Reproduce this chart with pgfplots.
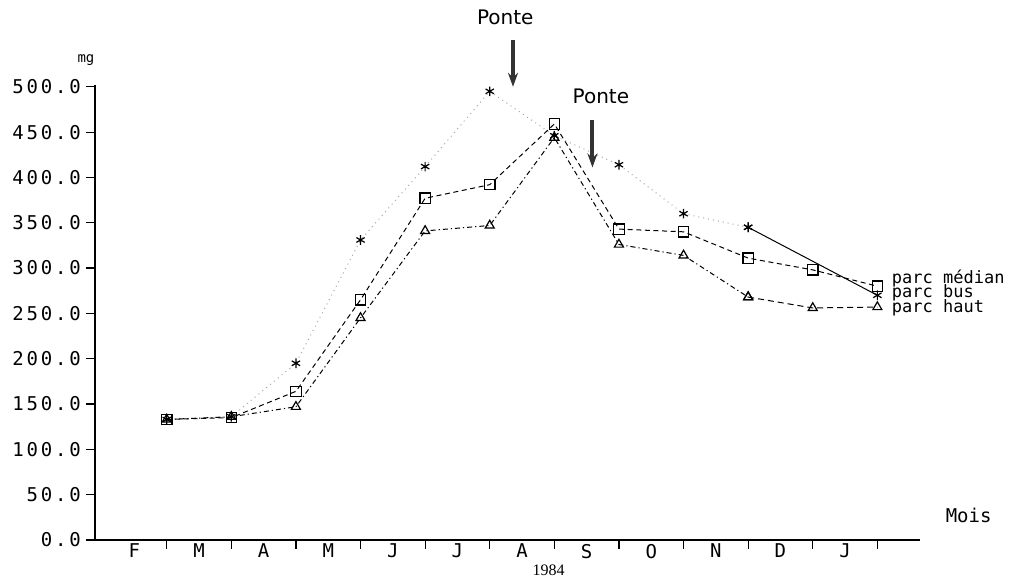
\documentclass[border=0pt]{standalone}
\usepackage{pgfplots}
\pgfplotsset{compat=1.18}
\usepackage{fontspec}
\setmainfont{DejaVu Sans}
\newfontfamily\plotfont[LetterSpace=15]{DejaVu Sans Mono}
\newfontfamily\legfont{DejaVu Sans Mono}
\newfontfamily\serifont{Liberation Serif}
\usetikzlibrary{arrows.meta}

\begin{document}
\begin{tikzpicture}
\useasboundingbox (0,0) rectangle (514.5pt,288pt);
\begin{axis}[
  at={(47.5pt,18pt)}, anchor=south west,
  scale only axis, width=412.5pt, height=227.5pt,
  xmin=-0.11, xmax=12.66, ymin=0, ymax=502,
  axis x line=bottom, axis y line=left,
  axis line style={-, line width=0.6pt},
  clip=false,
  tick align=outside,
  tick style={black, line width=0.6pt},
  major tick length=4.5pt,
  xtick={1,...,12}, xticklabels={},
  extra x ticks={0.5,1.5,...,11.5},
  extra x tick labels={F,M,A,M,J,J,A,S,O,N,D,J},
  extra x tick style={major tick length=0pt, tick label style={font=\fontsize{9.5}{10}\plotfont, yshift=1.5pt}},
  ytick={0,50,...,500},
  yticklabels={0.0,50.0,100.0,150.0,200.0,250.0,300.0,350.0,400.0,450.0,500.0},
  yticklabel style={font=\fontsize{9.5}{10}\plotfont, xshift=1pt},
]
% parc median
\addplot[black, line width=0.5pt, dash pattern=on 2.5pt off 1.8pt, mark=square, mark size=2.6pt, mark options={solid, line width=0.6pt}]
coordinates {(1,133) (2,135) (3,164) (4,265) (5,377) (6,392) (7,459) (8,343) (9,340) (10,311) (11,298) (12,280)};
% parc bus
\addplot[gray!70, line width=0.5pt, dotted, mark=asterisk, mark size=2.4pt, mark options={solid, black, line width=0.6pt}]
coordinates {(1,133) (2,136) (3,195) (4,331) (5,412) (6,495) (7,446) (8,414) (9,360) (10,345)};
\addplot[black, line width=0.5pt, solid, mark=asterisk, mark size=2.4pt, mark options={solid, black, line width=0.6pt}]
coordinates {(10,345) (12,270)};
% parc haut
\addplot[black, line width=0.5pt, dash pattern=on 2.5pt off 1.5pt on 0.6pt off 1.5pt, mark=triangle, mark size=2.6pt, mark options={solid, line width=0.6pt}]
coordinates {(1,133) (2,136) (3,147) (4,245) (5,341) (6,347) (7,444) (8,326) (9,314) (10,268)};
\addplot[black, line width=0.5pt, dash pattern=on 3pt off 2pt, mark=triangle, mark size=2.6pt, mark options={solid, line width=0.6pt}]
coordinates {(10,268) (11,256) (12,257)};

\node[anchor=west, font=\fontsize{8.5}{9}\legfont, inner sep=0pt] at (axis cs:12.22,289) {parc médian};
\node[anchor=west, font=\fontsize{8.5}{9}\legfont, inner sep=0pt] at (axis cs:12.22,272.5) {parc bus};
\node[anchor=west, font=\fontsize{8.5}{9}\legfont, inner sep=0pt] at (axis cs:12.22,256) {parc haut};

\node[font=\fontsize{10}{11}\selectfont] at (axis cs:6.24,577) {Ponte};
\draw[line width=2pt, -{Stealth[length=7pt,width=5pt]}, black!80] (axis cs:6.36,552) -- (axis cs:6.36,500);
\node[font=\fontsize{10}{11}\selectfont] at (axis cs:7.72,489) {Ponte};
\draw[line width=2pt, -{Stealth[length=7pt,width=5pt]}, black!80] (axis cs:7.59,463) -- (axis cs:7.59,411);

\node[font=\fontsize{7}{8}\legfont] at (axis cs:-0.25,530) {mg};
\node[anchor=west, font=\fontsize{9.5}{10}\legfont] at (axis cs:12.95,27) {Mois};
\node[font=\fontsize{8}{9}\serifont] at (axis cs:6.91,-33) {1984};
\end{axis}
\end{tikzpicture}
\end{document}
